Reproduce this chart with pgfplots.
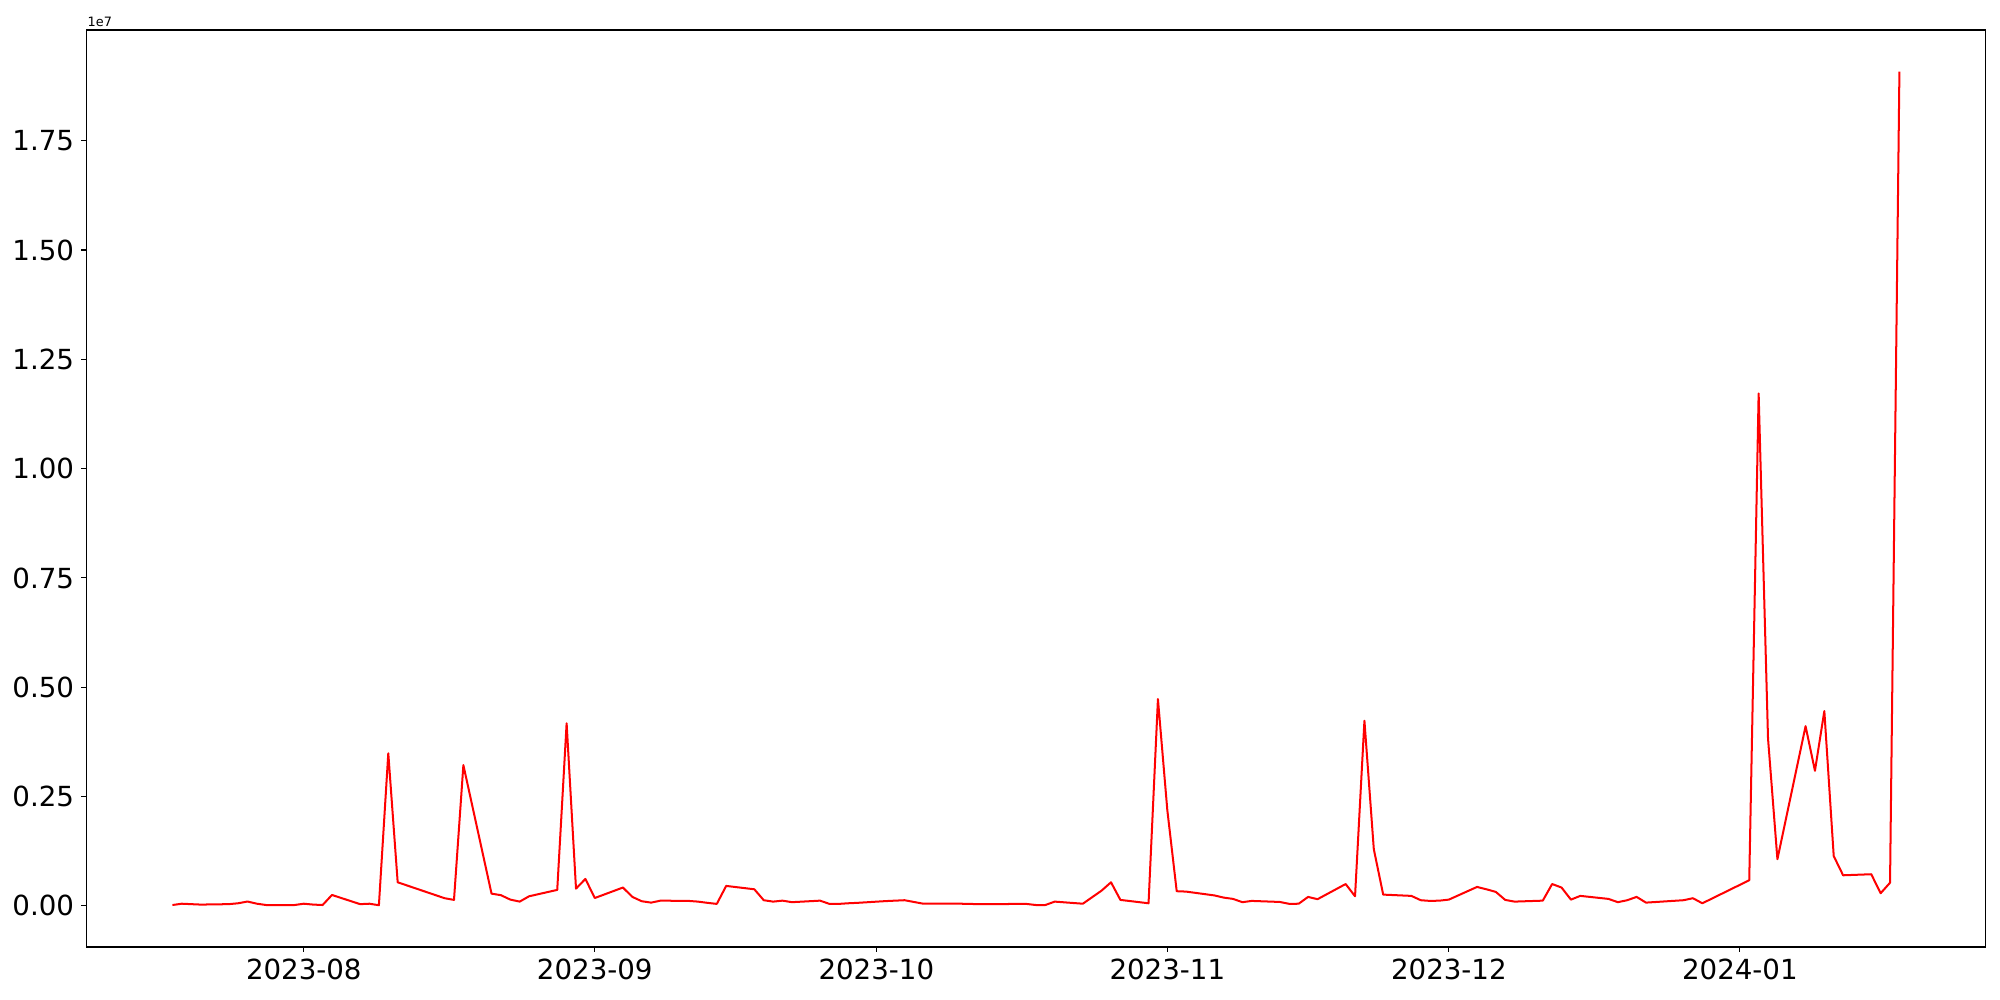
\documentclass[border=0pt]{standalone}
\usepackage{fontspec}
\setmainfont{DejaVu Sans}
\usepackage{pgfplots}
\pgfplotsset{compat=1.18}
% x: days after 2023-08-01 ; y: value in units of 1e7
\begin{document}
\begin{tikzpicture}
\begin{axis}[
  at={(0pt,0pt)}, anchor=south west,
  scale only axis, width=1372.9pt, height=662.7pt,
  xmin=-23.2, xmax=179.2, ymin=-0.094, ymax=2.003,
  axis line style={line width=0.8pt},
  every tick/.style={line width=0.8pt, black},
  major tick length=3.5pt,
  tick align=outside, xtick pos=bottom, ytick pos=left,
  xtick={0,31,61,92,122,153},
  xticklabels={2023-08,2023-09,2023-10,2023-11,2023-12,2024-01},
  ytick={0,0.25,0.5,0.75,1,1.25,1.5,1.75},
  yticklabels={0.00,0.25,0.50,0.75,1.00,1.25,1.50,1.75},
  scaled y ticks=false,
  ticklabel style={font=\fontsize{20}{24}\selectfont, inner sep=0pt},
  yticklabel style={xshift=-5pt},
  xticklabel style={yshift=-5pt},
  clip=false,
]
\addplot[red, line width=1.45pt, line join=round, mark=none] coordinates {
(-14,0.002) (-13,0.005) (-12,0.004) (-11,0.003) (-8,0.004) (-7,0.006) (-6,0.010)
(-5,0.005) (-4,0.002) (-1,0.002) (0,0.005) (1,0.003) (2,0.002) (3,0.025)
(6,0.004) (7,0.005) (8,0.0015) (9,0.349) (10,0.054) (15,0.0176) (16,0.0137)
(17,0.322) (20,0.028) (21,0.0245) (22,0.0144) (23,0.0098) (24,0.022) (27,0.0366)
(28,0.4175) (29,0.0395) (30,0.0617) (31,0.018) (34,0.042) (35,0.0206) (36,0.0107)
(37,0.0075) (38,0.012) (41,0.0114) (42,0.0098) (43,0.007) (44,0.0046) (45,0.0457)
(48,0.038) (49,0.013) (50,0.0098) (51,0.012) (52,0.0085) (55,0.012) (56,0.0046)
(57,0.0046) (58,0.006) (59,0.007) (62,0.011) (63,0.012) (64,0.013) (65,0.009)
(66,0.005) (69,0.005) (70,0.005) (71,0.0045) (72,0.004) (73,0.004) (76,0.0045)
(77,0.0045) (78,0.002) (79,0.002) (80,0.0098) (83,0.005) (84,0.020) (85,0.035)
(86,0.054) (87,0.0137) (90,0.006) (91,0.473) (92,0.219) (93,0.0336) (94,0.0327)
(97,0.024) (98,0.019) (99,0.016) (100,0.0085) (101,0.0114) (104,0.009) (105,0.0046)
(106,0.005) (107,0.0206) (108,0.0153) (111,0.050) (112,0.022) (113,0.4235) (114,0.1296)
(115,0.0258) (118,0.0229) (119,0.013) (120,0.0114) (121,0.012) (122,0.0144) (125,0.0434)
(126,0.038) (127,0.032) (128,0.0137) (129,0.0098) (132,0.012) (133,0.050) (134,0.042)
(135,0.0144) (136,0.0229) (139,0.016) (140,0.0085) (141,0.013) (142,0.0206) (143,0.0075)
(147,0.013) (148,0.0176) (149,0.006) (150,0.0165) (154,0.0587) (155,1.172) (156,0.383)
(157,0.1067) (160,0.411) (161,0.309) (162,0.4456) (163,0.114) (164,0.070) (167,0.0724)
(168,0.029) (169,0.053) (170,1.908)
};
\node[anchor=base west, inner sep=0pt, font=\fontsize{9.3}{11}\selectfont]
  at ([xshift=1pt,yshift=2.9pt]rel axis cs:0,1) {1e7};
\end{axis}
\pgfresetboundingbox
\path[use as bounding box] (-62.2pt,-38.3pt) rectangle (1383.2pt,684.4pt);
\end{tikzpicture}
\end{document}
